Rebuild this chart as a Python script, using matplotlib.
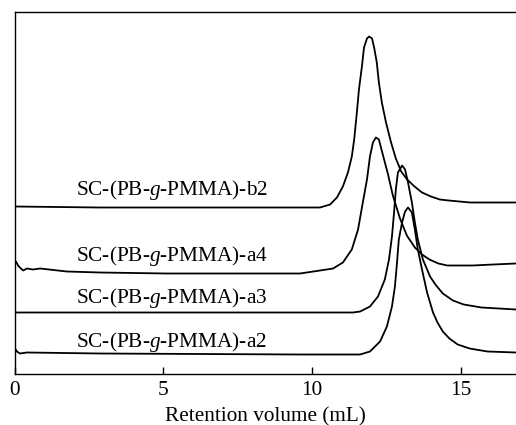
import matplotlib
matplotlib.use("Agg")
import matplotlib.pyplot as plt

plt.rcParams['font.family'] = ['Liberation Serif', 'DejaVu Serif']
plt.rcParams['mathtext.fontset'] = 'custom'
plt.rcParams['mathtext.rm'] = 'Liberation Serif'
plt.rcParams['mathtext.it'] = 'Liberation Serif:italic'

# GPC traces (x in mL, y arbitrary offset intensity)
b2_x = [0.0, 2.87, 6.24, 9.93, 10.27, 10.61, 10.84, 11.04, 11.21, 11.34, 11.42, 11.50,
        11.58, 11.68, 11.75, 11.85, 11.92, 12.02, 12.09, 12.18, 12.25, 12.35, 12.49,
        12.66, 12.82, 13.00, 13.20, 13.45, 13.70, 14.00, 14.30, 14.60, 15.31, 16.86]
b2_y = [167, 166, 166, 166, 166, 169, 176, 187, 201, 217, 234, 258,
        284, 307, 326, 335, 337, 335, 326, 311, 291, 271, 251,
        231, 215, 202, 194, 187, 181, 177, 174, 173, 171, 171]

a4_x = [0.0, 0.05, 0.12, 0.18, 0.29, 0.42, 0.62, 0.86, 1.76, 2.87, 5.13, 9.60,
        10.27, 10.71, 11.04, 11.34, 11.55, 11.71, 11.85, 11.95, 12.05, 12.15, 12.25,
        12.39, 12.55, 12.72, 12.96, 13.19, 13.46, 13.70, 13.95, 14.25, 14.55, 14.90,
        15.40, 16.10, 16.86]
a4_y = [109, 112, 108, 106, 103, 105, 104, 105, 102, 101, 100, 100,
        103, 105, 111, 124, 144, 171, 194, 217, 231, 236, 234,
        218, 200, 178, 155, 138, 126, 119, 114, 110, 108, 108,
        108, 109, 110]

a3_x = [0.0, 6.24, 11.38, 11.62, 11.95, 12.22, 12.45, 12.59, 12.69, 12.76, 12.82,
        12.89, 13.03, 13.13, 13.23, 13.36, 13.46, 13.56, 13.73, 13.97, 14.15, 14.40,
        14.74, 15.10, 15.70, 16.86]
a3_y = [61, 61, 61, 62, 67, 77, 94, 114, 137, 161, 184,
        201, 208, 204, 191, 171, 151, 134, 114, 97, 89, 80,
        73, 69, 66, 64]

a2_x = [0.0, 0.08, 0.18, 0.42, 2.87, 9.60, 11.62, 11.95, 12.29, 12.52, 12.69, 12.79,
        12.86, 12.92, 13.03, 13.13, 13.23, 13.36, 13.46, 13.56, 13.70, 13.87, 14.07,
        14.22, 14.40, 14.62, 14.90, 15.30, 15.90, 16.86]
a2_y = [26, 22, 20, 21, 20, 19, 19, 22, 32, 47, 67, 87,
        111, 134, 151, 162, 166, 161, 144, 124, 104, 81, 61,
        51, 42, 35, 29, 25, 22, 21]

labels = ['SC-(PB-$\\it{g}$-PMMA)-b2', 'SC-(PB-$\\it{g}$-PMMA)-a4',
          'SC-(PB-$\\it{g}$-PMMA)-a3', 'SC-(PB-$\\it{g}$-PMMA)-a2']
label_y = [184, 117, 75, 31]
label_x = 5.29

fig = plt.figure(figsize=(5.16, 4.25), dpi=100)
ax = fig.add_axes([14.5 / 516, 1 - 373.5 / 425, 1 - 14.5 / 516, (373.5 - 12) / 425])

for xs, ys in [(b2_x, b2_y), (a4_x, a4_y), (a3_x, a3_y), (a2_x, a2_y)]:
    ax.plot(xs, ys, color='black', lw=1.3, solid_joinstyle='round')

for lab, ly in zip(labels, label_y):
    ax.text(label_x, ly, lab, ha='center', va='center', fontsize=15.3)

ax.set_xlim(0, 16.86)
ax.set_ylim(0, 361.5)
ax.set_xticks([0, 5, 10, 15])
ax.set_yticks([])
ax.tick_params(axis='x', direction='in', length=5, width=1, pad=5.5, labelsize=15.3)
ax.spines['right'].set_visible(False)
for s in ['left', 'top', 'bottom']:
    ax.spines[s].set_linewidth(1.0)
ax.set_xlabel('Retention volume (mL)', fontsize=15.3, labelpad=5)

fig.savefig('out.png', dpi=100)
